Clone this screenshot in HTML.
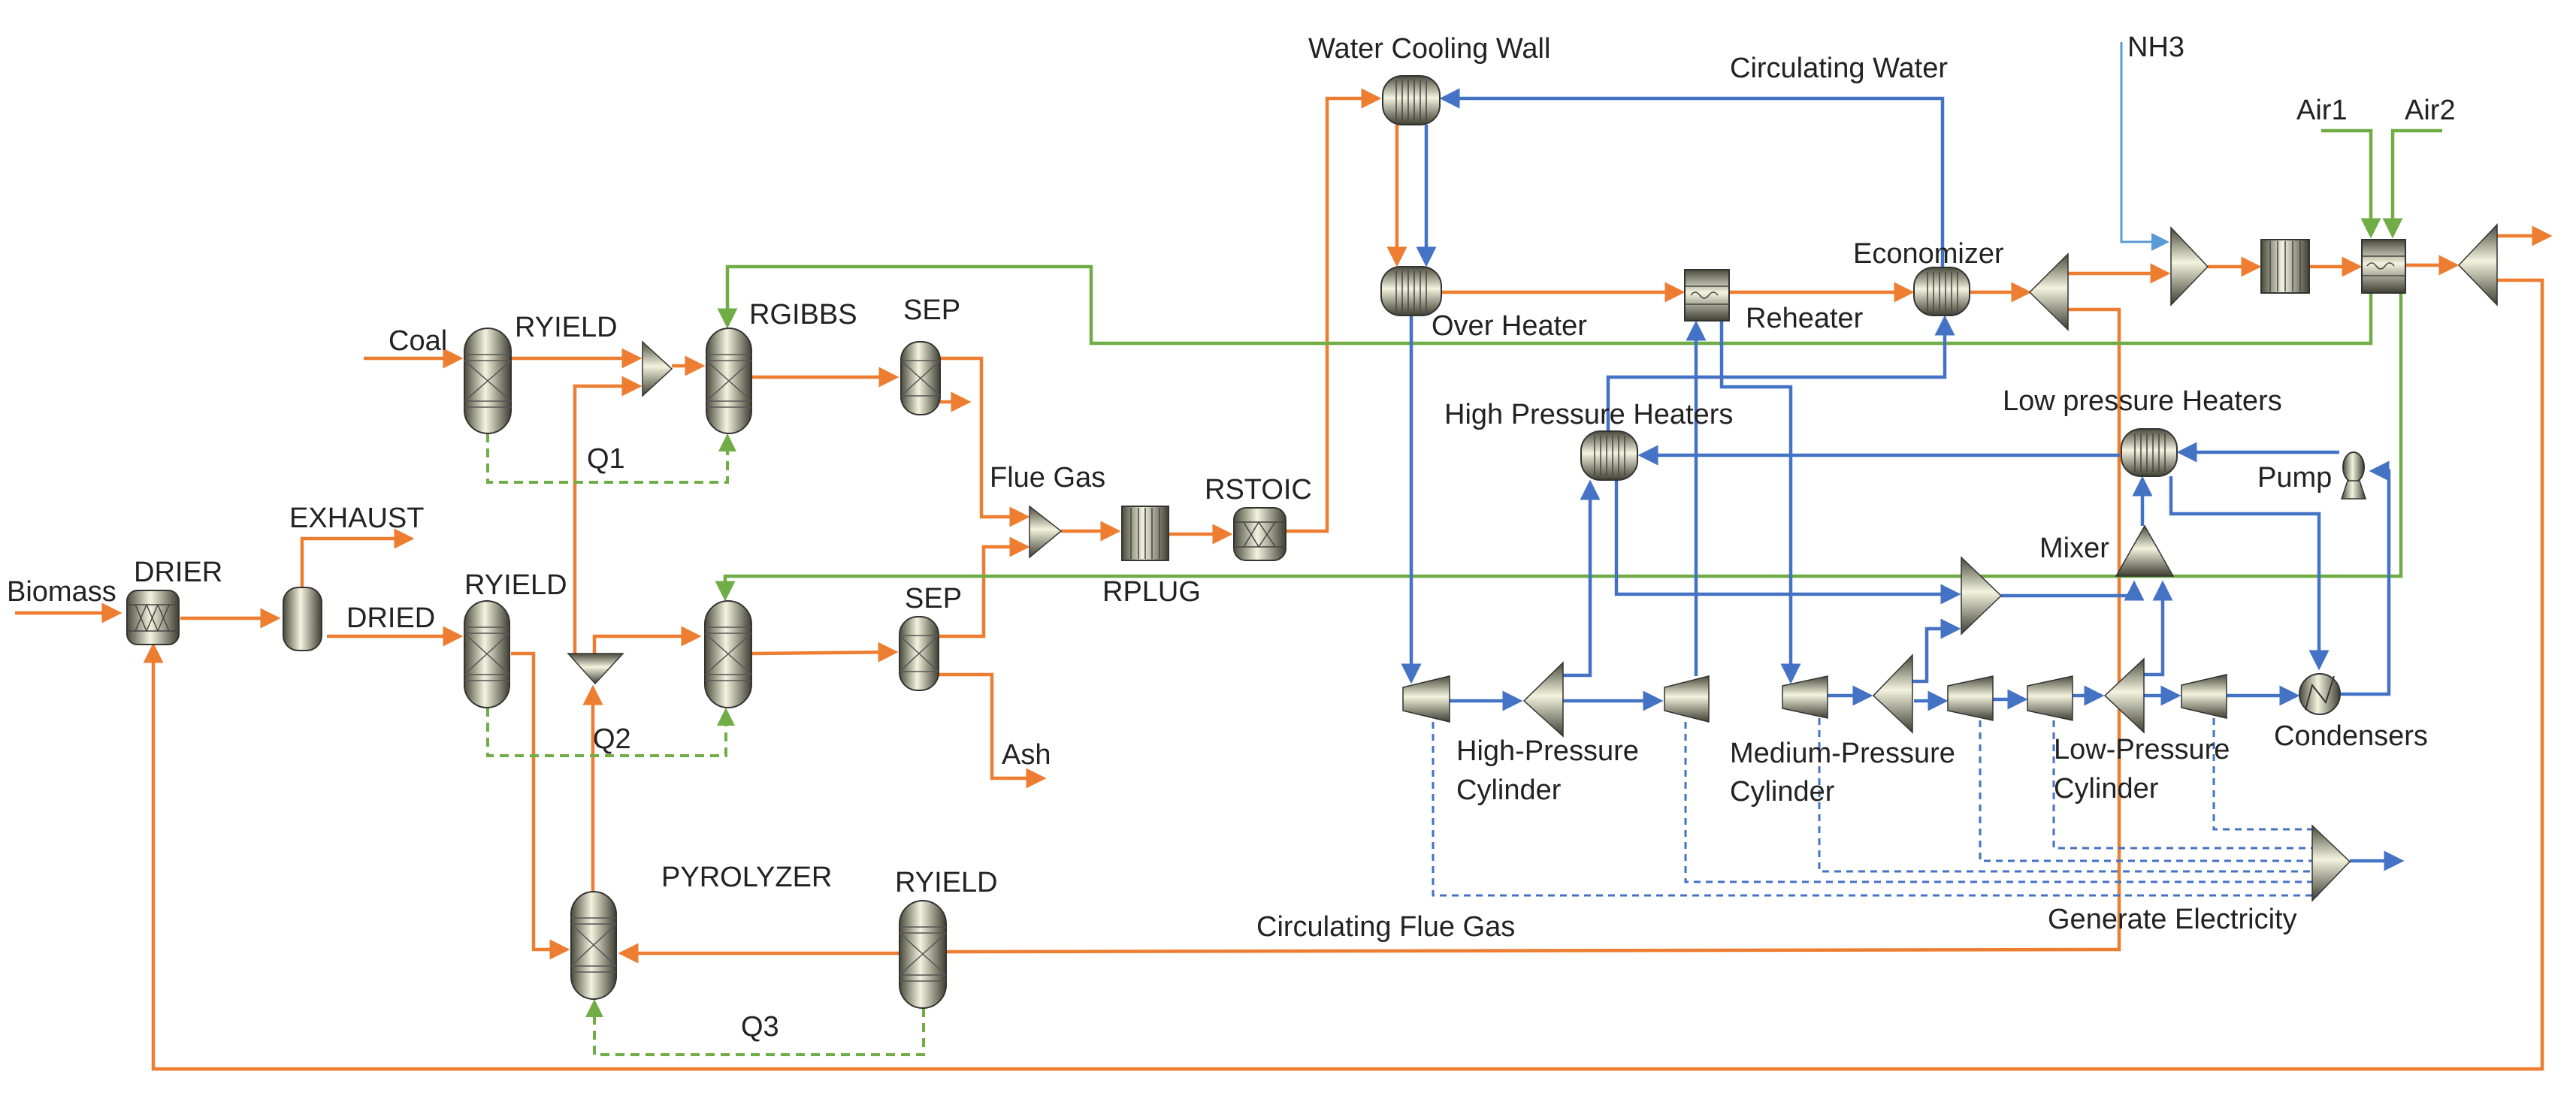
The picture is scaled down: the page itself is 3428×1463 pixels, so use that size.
<!DOCTYPE html>
<html><head><meta charset="utf-8"><style>
html,body{margin:0;padding:0;background:#fff;}
svg{display:block;}
text{font-family:"Liberation Sans",sans-serif;font-size:38px;fill:#222;}
</style></head><body>
<svg width="3428" height="1463" viewBox="0 0 3428 1463" xmlns="http://www.w3.org/2000/svg">
<defs>
<linearGradient id="gh" x1="0" x2="1" y1="0" y2="0"><stop offset="0" stop-color="#4a4a3c"/><stop offset="0.45" stop-color="#f3f3de"/><stop offset="1" stop-color="#3e3e32"/></linearGradient>
<linearGradient id="gvv" x1="0" x2="0" y1="0" y2="1"><stop offset="0" stop-color="#4a4a3c"/><stop offset="0.45" stop-color="#f3f3de"/><stop offset="1" stop-color="#3e3e32"/></linearGradient>
<marker id="ao" markerWidth="6" markerHeight="6" refX="5" refY="3" orient="auto" markerUnits="strokeWidth"><path d="M0,0 L6,3 L0,6 z" fill="#ED7D31"/></marker>
<marker id="ab" markerWidth="6" markerHeight="6" refX="5" refY="3" orient="auto" markerUnits="strokeWidth"><path d="M0,0 L6,3 L0,6 z" fill="#4472C4"/></marker>
<marker id="ag" markerWidth="6" markerHeight="6" refX="5" refY="3" orient="auto" markerUnits="strokeWidth"><path d="M0,0 L6,3 L0,6 z" fill="#70AD47"/></marker>
<marker id="al" markerWidth="8" markerHeight="8" refX="7" refY="4" orient="auto" markerUnits="strokeWidth"><path d="M0,0 L8,4 L0,8 z" fill="#5b9bd5"/></marker>
</defs>

<!-- ORANGE lines -->
<g fill="none" stroke="#ED7D31" stroke-width="4.5">
<polyline points="20,816 158,816" marker-end="url(#ao)"/>
<polyline points="240,823 369,823" marker-end="url(#ao)"/>
<polyline points="402,782 402,717 547,717" marker-end="url(#ao)"/>
<polyline points="435,847 612,847" marker-end="url(#ao)"/>
<polyline points="484,477 612,477" marker-end="url(#ao)"/>
<polyline points="680,477 850,477" marker-end="url(#ao)"/>
<polyline points="765,872 765,514 850,514" marker-end="url(#ao)"/>
<polyline points="894,487 934,487" marker-end="url(#ao)"/>
<polyline points="1000,502 1192,502" marker-end="url(#ao)"/>
<polyline points="1251,477 1306,477 1306,688 1366,688" marker-end="url(#ao)"/>
<polyline points="1251,535 1288,535" marker-end="url(#ao)"/>
<polyline points="1412,707 1487,707" marker-end="url(#ao)"/>
<polyline points="1555,711 1636,711" marker-end="url(#ao)"/>
<polyline points="1711,707 1766,707 1766,131 1834,131" marker-end="url(#ao)"/>
<polyline points="791,870 791,847 929,847" marker-end="url(#ao)"/>
<polyline points="789,1190 789,916" marker-end="url(#ao)"/>
<polyline points="1000,870 1191,868" marker-end="url(#ao)"/>
<polyline points="1249,847 1309,847 1309,728 1366,728" marker-end="url(#ao)"/>
<polyline points="1249,898 1320,898 1320,1036 1388,1036" marker-end="url(#ao)"/>
<polyline points="680,870 710,870 710,1264 754,1264" marker-end="url(#ao)"/>
<polyline points="1197,1269 827,1269" marker-end="url(#ao)"/>
<polyline points="1259,1267 2820,1264 2820,412 2752,412"/>
<polyline points="2752,364 2884,364" marker-end="url(#ao)"/>
<polyline points="3323,373 3383,373 3383,1423 204,1423 204,860" marker-end="url(#ao)"/>
<polyline points="1859,166 1859,351" marker-end="url(#ao)"/>
<polyline points="1918,389 2238,389" marker-end="url(#ao)"/>
<polyline points="2301,389 2543,389" marker-end="url(#ao)"/>
<polyline points="2621,389 2699,389" marker-end="url(#ao)"/>
<polyline points="2938,355 3005,355" marker-end="url(#ao)"/>
<polyline points="3073,355 3139,355" marker-end="url(#ao)"/>
<polyline points="3201,353 3268,353" marker-end="url(#ao)"/>
<polyline points="3323,314 3392,314" marker-end="url(#ao)"/>
</g>

<!-- GREEN -->
<g fill="none" stroke="#70AD47" stroke-width="4.5">
<polyline points="3155,390 3155,457 1452,457 1452,355 968,355 968,433" marker-end="url(#ag)"/>
<polyline points="3195,390 3195,767 965,767 965,796" marker-end="url(#ag)"/>
<polyline points="3089,174 3155,174 3155,313" marker-end="url(#ag)"/>
<polyline points="3250,174 3184,174 3184,313" marker-end="url(#ag)"/>
</g>
<g fill="none" stroke="#70AD47" stroke-width="4" stroke-dasharray="12,8">
<polyline points="649,577 649,642 968,642 968,581" marker-end="url(#ag)"/>
<polyline points="649,942 649,1006 966,1006 966,946" marker-end="url(#ag)"/>
<polyline points="1229,1342 1229,1404 791,1404 791,1334" marker-end="url(#ag)"/>
</g>

<!-- BLUE -->
<g fill="none" stroke="#4472C4" stroke-width="4.5">
<polyline points="2585,359 2585,131 1920,131" marker-end="url(#ab)"/>
<polyline points="1898,166 1898,351" marker-end="url(#ab)"/>
<polyline points="1878,420 1878,906" marker-end="url(#ab)"/>
<polyline points="1929,933 2022,933" marker-end="url(#ab)"/>
<polyline points="2080,899 2116,899 2116,643" marker-end="url(#ab)"/>
<polyline points="2080,933 2209,933" marker-end="url(#ab)"/>
<polyline points="2257,900 2257,431" marker-end="url(#ab)"/>
<polyline points="2291,427 2291,515 2383,515 2383,906" marker-end="url(#ab)"/>
<polyline points="2140,574 2140,502 2588,502 2588,424" marker-end="url(#ab)"/>
<polyline points="2821,606 2184,606" marker-end="url(#ab)"/>
<polyline points="2151,639 2151,791 2605,791" marker-end="url(#ab)"/>
<polyline points="2663,793 2840,793 2840,777" marker-end="url(#ab)"/>
<polyline points="2851,700 2851,638" marker-end="url(#ab)"/>
<polyline points="3113,602 2901,602" marker-end="url(#ab)"/>
<polyline points="2889,634 2889,684 3086,684 3086,888" marker-end="url(#ab)"/>
<polyline points="3115,924 3179,924 3179,627 3157,627" marker-end="url(#ab)"/>
<polyline points="2432,926 2488,926" marker-end="url(#ab)"/>
<polyline points="2545,907 2564,907 2564,837 2605,837" marker-end="url(#ab)"/>
<polyline points="2547,933 2588,933" marker-end="url(#ab)"/>
<polyline points="2652,931 2694,931" marker-end="url(#ab)"/>
<polyline points="2758,926 2796,926" marker-end="url(#ab)"/>
<polyline points="2853,898 2878,898 2878,777" marker-end="url(#ab)"/>
<polyline points="2853,926 2898,926" marker-end="url(#ab)"/>
<polyline points="2963,926 3056,926" marker-end="url(#ab)"/>
<polyline points="3127,1146 3195,1146" marker-end="url(#ab)"/>
</g>
<polyline points="2823,56 2823,322 2884,322" fill="none" stroke="#5b9bd5" stroke-width="3" marker-end="url(#al)"/>
<g fill="none" stroke="#4472C4" stroke-width="3" stroke-dasharray="9,7">
<polyline points="1907,961 1907,1192 3085,1192"/>
<polyline points="2243,961 2243,1174 3085,1174"/>
<polyline points="2421,956 2421,1160 3085,1160"/>
<polyline points="2635,959 2635,1146 3085,1146"/>
<polyline points="2733,959 2733,1129 3085,1129"/>
<polyline points="2946,956 2946,1104 3085,1104"/>
</g>

<!-- Columns -->
<g stroke="#333" stroke-width="2">
<g id="cols">
<rect x="618" y="437" width="62" height="140" rx="31" fill="url(#gh)"/>
<rect x="940" y="437" width="60" height="140" rx="30" fill="url(#gh)"/>
<rect x="618" y="800" width="60" height="142" rx="30" fill="url(#gh)"/>
<rect x="938" y="800" width="62" height="142" rx="31" fill="url(#gh)"/>
<rect x="760" y="1187" width="60" height="143" rx="30" fill="url(#gh)"/>
<rect x="1197" y="1199" width="62" height="143" rx="31" fill="url(#gh)"/>
<rect x="1199" y="455" width="52" height="97" rx="24" fill="url(#gh)"/>
<rect x="1197" y="821" width="52" height="98" rx="24" fill="url(#gh)"/>
<rect x="377" y="782" width="51" height="84" rx="20" fill="url(#gh)"/>
</g>
</g>
<g stroke="#555" stroke-width="1.5" fill="none">
<path d="M618,472H680M618,480H680M618,534H680M618,542H680M618,480L680,534M680,480L618,534"/>
<path d="M940,472H1000M940,480H1000M940,534H1000M940,542H1000M940,480L1000,534M1000,480L940,534"/>
<path d="M618,835H678M618,843H678M618,898H678M618,906H678M618,843L678,898M678,843L618,898"/>
<path d="M938,835H1000M938,843H1000M938,898H1000M938,906H1000M938,843L1000,898M1000,843L938,898"/>
<path d="M760,1222H820M760,1230H820M760,1286H820M760,1294H820M760,1230L820,1286M820,1230L760,1286"/>
<path d="M1197,1234H1259M1197,1242H1259M1197,1298H1259M1197,1306H1259M1197,1242L1259,1298M1259,1242L1197,1298"/>
<path d="M1199,480H1251M1199,527H1251M1199,480L1251,527M1251,480L1199,527"/>
<path d="M1197,846H1249M1197,894H1249M1197,846L1249,894M1249,846L1197,894"/>
</g>

<!-- Drums -->
<g stroke="#333" stroke-width="2">
<rect x="169" y="786" width="69" height="72" rx="14" fill="url(#gh)"/>
<rect x="1642" y="676" width="69" height="70" rx="16" fill="url(#gh)"/>
<rect x="1840" y="101" width="76" height="65" rx="26" fill="url(#gvv)"/>
<rect x="1838" y="355" width="80" height="65" rx="26" fill="url(#gvv)"/>
<rect x="2547" y="356" width="74" height="64" rx="26" fill="url(#gvv)"/>
<rect x="2104" y="574" width="75" height="65" rx="26" fill="url(#gvv)"/>
<rect x="2823" y="571" width="74" height="63" rx="26" fill="url(#gvv)"/>
<rect x="1493" y="674" width="62" height="72" fill="url(#gh)"/>
<rect x="3009" y="319" width="64" height="71" fill="url(#gh)"/>
<rect x="2242" y="359" width="59" height="68" fill="url(#gvv)"/>
<rect x="3143" y="319" width="58" height="71" fill="url(#gvv)"/>
</g>
<g stroke="#444" stroke-width="1.5" fill="none">
<path d="M169,805H238M169,840H238M180,805L195,840M195,805L180,840M195,805L210,840M210,805L195,840M210,805L225,840M225,805L210,840"/>
<path d="M1642,695H1711M1642,728H1711M1655,695L1675,728M1675,695L1655,728M1675,695L1697,728M1697,695L1675,728"/>
<path d="M1858,107V160M1866,107V160M1874,107V160M1882,107V160M1890,107V160M1898,107V160"/>
<path d="M1858,361V414M1866,361V414M1874,361V414M1882,361V414M1890,361V414M1898,361V414"/>
<path d="M2565,362V414M2573,362V414M2581,362V414M2589,362V414M2597,362V414M2605,362V414"/>
<path d="M2122,580V633M2130,580V633M2138,580V633M2146,580V633M2154,580V633M2162,580V633"/>
<path d="M2841,577V628M2849,577V628M2857,577V628M2865,577V628M2873,577V628M2881,577V628"/>
<path d="M1505,676V744M1515,676V744M1524,676V744M1533,676V744M1543,676V744"/>
<path d="M3021,321V388M3031,321V388M3041,321V388M3051,321V388M3061,321V388"/>
<path d="M2242,381H2301M2242,405H2301M2250,393q6,-8 12,0t12,0t12,0"/>
<path d="M3143,341H3201M3143,367H3201M3150,354q6,-8 12,0t12,0t12,0"/>
</g>

<!-- Triangles: mixers/splitters -->
<g stroke="#333" stroke-width="1.5" fill="url(#gvv)">
<path d="M855,455L894,491L855,527z"/>
<path d="M1370,674L1412,707L1370,742z"/>
<path d="M756,870H829L792,910z"/>
<path d="M2752,338L2701,389L2752,439z"/>
<path d="M2889,303L2938,355L2889,406z"/>
<path d="M3323,299L3272,353L3323,406z"/>
<path d="M2610,742L2663,793L2610,844z"/>
<path d="M2854,700L2892,767H2816z"/>
<path d="M3077,1099L3127,1147L3077,1199z"/>
<!-- turbines -->
<path d="M1867,915L1929,900V961L1867,946z"/>
<path d="M2080,882L2028,933L2080,980z"/>
<path d="M2215,915L2274,900V961L2215,946z"/>
<path d="M2372,913L2432,900V956L2372,943z"/>
<path d="M2545,872L2493,926L2545,975z"/>
<path d="M2592,913L2652,900V959L2592,946z"/>
<path d="M2698,913L2758,900V959L2698,946z"/>
<path d="M2853,877L2801,926L2853,975z"/>
<path d="M2903,912L2963,898V956L2903,942z"/>
</g>
<!-- condenser & pump -->
<circle cx="3087" cy="924" r="27" fill="url(#gh)" stroke="#333" stroke-width="2"/>
<path d="M3068,945L3077,912L3095,935L3106,900" fill="none" stroke="#333" stroke-width="2"/>
<ellipse cx="3132" cy="622" rx="14" ry="20" fill="url(#gh)" stroke="#333" stroke-width="2"/>
<path d="M3116,664L3124,640H3140L3148,664z" fill="url(#gh)" stroke="#333" stroke-width="1.5"/>

<!-- Labels -->
<text x="9" y="800">Biomass</text>
<text x="178" y="774">DRIER</text>
<text x="385" y="702">EXHAUST</text>
<text x="461" y="835">DRIED</text>
<text x="618" y="791">RYIELD</text>
<text x="517" y="466">Coal</text>
<text x="685" y="448">RYIELD</text>
<text x="997" y="431">RGIBBS</text>
<text x="781" y="623">Q1</text>
<text x="789" y="996">Q2</text>
<text x="1202" y="425">SEP</text>
<text x="1204" y="809">SEP</text>
<text x="1317" y="648">Flue Gas</text>
<text x="1467" y="800">RPLUG</text>
<text x="1603" y="664">RSTOIC</text>
<text x="1333" y="1017">Ash</text>
<text x="880" y="1180">PYROLYZER</text>
<text x="1191" y="1187">RYIELD</text>
<text x="986" y="1379">Q3</text>
<text x="1672" y="1246">Circulating Flue Gas</text>
<text x="1741" y="77">Water Cooling Wall</text>
<text x="2302" y="103">Circulating Water</text>
<text x="1905" y="446">Over Heater</text>
<text x="2323" y="436">Reheater</text>
<text x="2466" y="350">Economizer</text>
<text x="2831" y="75">NH3</text>
<text x="3056" y="159">Air1</text>
<text x="3200" y="159">Air2</text>
<text x="1922" y="564">High Pressure Heaters</text>
<text x="2665" y="546">Low pressure Heaters</text>
<text x="3004" y="648">Pump</text>
<text x="2714" y="742">Mixer</text>
<text x="1938" y="1012">High-Pressure</text>
<text x="1938" y="1064">Cylinder</text>
<text x="2302" y="1015">Medium-Pressure</text>
<text x="2302" y="1066">Cylinder</text>
<text x="2733" y="1010">Low-Pressure</text>
<text x="2733" y="1062">Cylinder</text>
<text x="3026" y="992">Condensers</text>
<text x="2725" y="1236">Generate Electricity</text>
</svg>
</body></html>
